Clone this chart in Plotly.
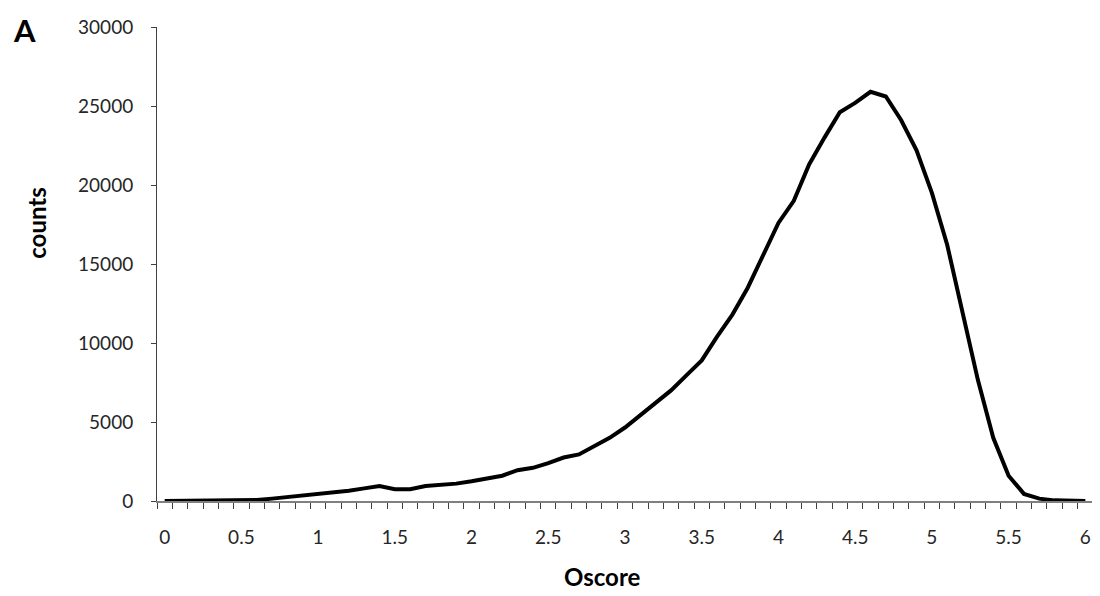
import plotly.graph_objects as go

oscore = [round(i * 0.1, 1) for i in range(61)]
counts = [0, 0, 0, 0, 10, 30, 60, 150, 250, 380,
          450, 520, 650, 800, 950, 750, 750, 950, 1020, 1100,
          1250, 1400, 1600, 1950, 2100, 2400, 2750, 2950, 3450, 4000,
          4650, 5450, 6200, 7000, 7950, 8900, 10400, 11800, 13500, 15500,
          17600, 19000, 21300, 23000, 24600, 25200, 25900, 25600, 24100, 22200,
          19500, 16200, 11800, 7650, 4000, 1600, 450, 150, 40, 10,
          0]
x_labels = [0, 0.5, 1, 1.5, 2, 2.5, 3, 3.5, 4, 4.5, 5, 5.5, 6]
y_ticks = [0, 5000, 10000, 15000, 20000, 25000, 30000]

FONT = "Lato, 'DejaVu Sans', sans-serif"
W, H = 1092, 588          # page body has an 8px margin
L, R, T, B = 149, 7, 16, 95

fig = go.Figure()
fig.add_trace(go.Scatter(x=oscore, y=counts, mode="lines",
                         line=dict(color="black", width=4),
                         showlegend=False, hoverinfo="skip"))

fig.update_layout(
    width=W, height=H,
    margin=dict(l=L, r=R, t=T, b=B),
    plot_bgcolor="white", paper_bgcolor="white",
    font=dict(family=FONT, size=19, color="#262626"),
)
fig.update_xaxes(
    range=[-0.05, 6.05],
    tickvals=x_labels, ticktext=[str(v) for v in x_labels],
    ticks="", showgrid=False, zeroline=False,
    showline=True, linecolor="#808080", linewidth=2,
    ticklabelstandoff=18,
    minor=dict(tick0=-0.05, dtick=0.1, ticks="outside", ticklen=6,
               tickcolor="#404040", tickwidth=1, showgrid=False),
)
fig.update_yaxes(
    range=[0, 30000], tickvals=y_ticks, ticktext=[str(v) for v in y_ticks],
    ticks="outside", ticklen=5, tickcolor="#404040", tickwidth=1,
    showgrid=False, zeroline=False,
    showline=True, linecolor="#404040", linewidth=1,
    ticklabelstandoff=14,
)
pw, ph = W - L - R, H - T - B
def px2paper(px, py):
    return (px - L) / pw, (H - B - py) / ph

for text, px, py, size, angle in [("<b>Oscore</b>", 594, 569, 24, 0),
                                  ("<b>counts</b>", 29, 213, 24, -90),
                                  ("<b>A</b>", 16, 19, 31, 0)]:
    ax, ay = px2paper(px, py)
    fig.add_annotation(text=text, x=ax, y=ay, xref="paper", yref="paper",
                       xanchor="center", yanchor="middle", showarrow=False,
                       textangle=angle,
                       font=dict(size=size, family=FONT, color="black"))

fig.write_html("out.html")
